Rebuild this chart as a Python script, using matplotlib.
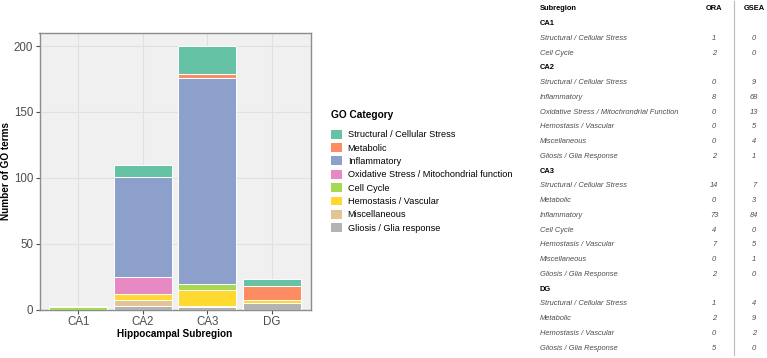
import numpy as np
import matplotlib
matplotlib.use("Agg")
import matplotlib.pyplot as plt
from matplotlib.patches import Patch

plt.rcParams['font.family'] = ['Liberation Sans', 'DejaVu Sans']

# GO categories (stack order top -> bottom) and their Set2 colours
categories = ["Structural / Cellular Stress", "Metabolic", "Inflammatory",
              "Oxidative Stress / Mitochondrial function", "Cell Cycle",
              "Hemostasis / Vascular", "Miscellaneous", "Gliosis / Glia response"]
table_names = ["Structural / Cellular Stress", "Metabolic", "Inflammatory",
               "Oxidative Stress / Mitochrondrial Function", "Cell Cycle",
               "Hemostasis / Vascular", "Miscellaneous", "Gliosis / Glia Response"]
colors = ["#66C2A5", "#FC8D62", "#8DA0CB", "#E78AC3",
          "#A6D854", "#FFD92F", "#E5C494", "#B3B3B3"]

regions = ["CA1", "CA2", "CA3", "DG"]

# per-region table rows: category, ORA count, GSEA count
ca1_terms = ["Structural / Cellular Stress", "Cell Cycle"]
ca1_ora = [1, 2]
ca1_gsea = [0, 0]

ca2_terms = ["Structural / Cellular Stress", "Inflammatory",
             "Oxidative Stress / Mitochrondrial Function", "Hemostasis / Vascular",
             "Miscellaneous", "Gliosis / Glia Response"]
ca2_ora = [0, 8, 0, 0, 0, 2]
ca2_gsea = [9, 68, 13, 5, 4, 1]

ca3_terms = ["Structural / Cellular Stress", "Metabolic", "Inflammatory", "Cell Cycle",
             "Hemostasis / Vascular", "Miscellaneous", "Gliosis / Glia Response"]
ca3_ora = [14, 0, 73, 4, 7, 0, 2]
ca3_gsea = [7, 3, 84, 0, 5, 1, 0]

dg_terms = ["Structural / Cellular Stress", "Metabolic", "Hemostasis / Vascular",
            "Gliosis / Glia Response"]
dg_ora = [1, 2, 0, 5]
dg_gsea = [4, 9, 2, 0]

region_terms = [ca1_terms, ca2_terms, ca3_terms, dg_terms]
region_ora = [ca1_ora, ca2_ora, ca3_ora, dg_ora]
region_gsea = [ca1_gsea, ca2_gsea, ca3_gsea, dg_gsea]

# counts matrix: category x region (ORA + GSEA)
counts = np.zeros((len(categories), len(regions)))
for j, (terms, ora, gsea) in enumerate(zip(region_terms, region_ora, region_gsea)):
    for t, o, g in zip(terms, ora, gsea):
        counts[table_names.index(t), j] += o + g

W, H = 767, 358
fig = plt.figure(figsize=(W / 100, H / 100), dpi=100)

def fx(px):
    return px / W

def fy(py):
    return 1 - py / H

ax = fig.add_axes([fx(39.5), fy(309.5), fx(310.7) - fx(39.5), fy(33) - fy(309.5)])
ax.set_facecolor("#F0F0F0")
x = np.arange(len(regions))
bottom = np.zeros(len(regions))
for i in range(len(categories) - 1, -1, -1):
    ax.bar(x, counts[i], 0.9, bottom=bottom, color=colors[i],
           edgecolor="white", linewidth=0.7, zorder=3)
    bottom += counts[i]

ax.set_xlim(-0.6, 3.6)
ax.set_ylim(0, 210)
ax.set_yticks([0, 50, 100, 150, 200])
ax.set_xticks(x)
ax.set_xticklabels(regions)
ax.grid(True, color="#E0E0E0", linewidth=0.8, zorder=0)
ax.set_axisbelow(True)
for s in ax.spines.values():
    s.set_color("#8C8C8C")
    s.set_linewidth(1.0)
ax.tick_params(colors="#4D4D4D", labelsize=8.3, length=3, width=0.8, pad=1.5)
ax.set_xlabel("Hippocampal Subregion", fontsize=7.2, fontweight="bold", labelpad=1)
ax.set_ylabel("Number of GO terms", fontsize=7.2, fontweight="bold")
ax.yaxis.set_label_coords((11.5 - 39.5) / 271.2, 0.5)

# legend (title drawn separately for the larger gap above the keys)
fig.text(fx(331), fy(115), "GO Category", fontsize=7.3, fontweight="bold",
         va="center", ha="left")
handles = [Patch(facecolor=c, edgecolor="none") for c in colors]
leg = fig.legend(handles, categories, loc="upper left",
                 bbox_to_anchor=(fx(328), fy(127)), frameon=False,
                 fontsize=6.6, borderaxespad=0, borderpad=0.3,
                 handlelength=1.2, handleheight=1.1, handletextpad=0.65,
                 labelspacing=0.42)

# summary table on the right
row_y0, row_dy = 9, 14.74
label_x, ora_x, gsea_x = 540, 714, 754
fs_tab = 5.4
fig.text(fx(label_x), fy(row_y0), "Subregion", fontsize=fs_tab, fontweight="bold",
         va="center", ha="left")
fig.text(fx(ora_x), fy(row_y0), "ORA", fontsize=fs_tab, fontweight="bold",
         va="center", ha="center")
fig.text(fx(gsea_x), fy(row_y0), "GSEA", fontsize=fs_tab, fontweight="bold",
         va="center", ha="center")
row = 1
for reg, terms, ora, gsea in zip(regions, region_terms, region_ora, region_gsea):
    fig.text(fx(label_x), fy(row_y0 + row * row_dy), reg, fontsize=fs_tab,
             fontweight="bold", va="center", ha="left")
    row += 1
    for t, o, g in zip(terms, ora, gsea):
        y = fy(row_y0 + row * row_dy)
        fig.text(fx(label_x), y, t, fontsize=fs_tab, style="italic",
                 color="#4D4D4D", va="center", ha="left")
        fig.text(fx(ora_x), y, str(o), fontsize=fs_tab, style="italic",
                 color="#4D4D4D", va="center", ha="center")
        fig.text(fx(gsea_x), y, str(g), fontsize=fs_tab, style="italic",
                 color="#4D4D4D", va="center", ha="center")
        row += 1
fig.add_artist(plt.Line2D([fx(734), fx(734)], [fy(1), fy(355)], color="#BBBBBB",
                          linewidth=0.8))

fig.savefig("out.png", dpi=100)
